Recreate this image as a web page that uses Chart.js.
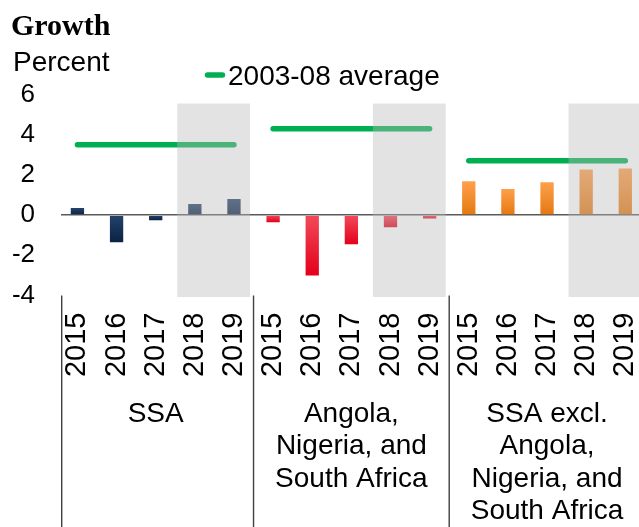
<!DOCTYPE html>
<html><head><meta charset="utf-8">
<script src="https://cdn.jsdelivr.net/npm/chart.js@4"></script>
<style>html,body{margin:0;padding:0;background:#fff;}canvas{display:block}</style>
</head><body>
<canvas id="c" width="639" height="527"></canvas>
<script>
// ---- data ----
const years = ['2015', '2016', '2017', '2018', '2019'];
const projectionYears = ['2018', '2019'];
const groupLabels = [
  ['SSA'],
  ['Angola,', 'Nigeria, and', 'South Africa'],
  ['SSA excl.', 'Angola,', 'Nigeria, and', 'South Africa']
];
const ssa = [0.35, -1.35, -0.25, 0.55, 0.8];
const angolaNigeriaSAfrica = [-0.35, -3.0, -1.45, -0.6, -0.17];
const ssaExcl = [1.68, 1.3, 1.64, 2.27, 2.32];
const average0308 = [3.5, 4.3, 2.7];
const yTicks = [-4, -2, 0, 2, 4, 6];
const legendLabel = '2003-08 average';
const titleText = 'Growth';
const unitText = 'Percent';

// ---- build ----
const series = [ssa, angolaNigeriaSAfrica, ssaExcl];
const n = years.length;
const barPoints = series.flatMap((s, g) => s.map((v, i) => ({x: g * n + i, y: v})));
const avgPoints = average0308.flatMap((v, g) => [
  {x: g * n, y: v}, {x: g * n + n - 1, y: v}, {x: g * n + n - 0.5, y: null}
]);
const palettes = [
  ['#24436b', '#0b2244'],
  ['#f24a5a', '#e4001a'],
  ['#ffa04c', '#e47810']
];
const SANS = "'Liberation Sans', Arial, sans-serif";

function barColor(ctx) {
  if (ctx.type !== 'data') return palettes[0][1];
  const g = Math.floor(ctx.raw.x / n);
  const [light, dark] = palettes[g];
  const ys = ctx.chart.scales.y;
  if (!ys || !isFinite(ys.getPixelForValue(0))) return dark;
  const v = ctx.raw.y;
  const top = ys.getPixelForValue(Math.max(v, 0));
  const bot = ys.getPixelForValue(Math.min(v, 0));
  if (!(bot > top)) return dark;
  const gr = ctx.chart.ctx.createLinearGradient(0, top, 0, bot);
  gr.addColorStop(0, light);
  gr.addColorStop(1, dark);
  return gr;
}

const decor = {
  id: 'decor',
  afterDatasetsDraw(chart) {
    const {ctx, chartArea: a, scales: {x, y}} = chart;
    ctx.save();
    ctx.fillStyle = 'rgba(186,186,186,0.4)';
    const p0 = years.indexOf(projectionYears[0]);
    const p1 = years.indexOf(projectionYears[projectionYears.length - 1]);
    for (let g = 0; g < series.length; g++) {
      const x0 = x.getPixelForValue(g * n + p0 - 0.45);
      const x1 = Math.min(x.getPixelForValue(g * n + p1 + 0.41), a.right);
      const y0 = y.getPixelForValue(5.55);
      ctx.fillRect(x0, y0, x1 - x0, a.bottom + 1.5 - y0);
    }
    ctx.restore();
  },
  afterDraw(chart) {
    const {ctx, chartArea: a, scales: {x}} = chart;
    ctx.save();
    // group separators
    ctx.strokeStyle = '#404040';
    ctx.lineWidth = 1.4;
    for (let g = 0; g < series.length; g++) {
      const px = g === 0 ? a.left + 0.7 : x.getPixelForValue(g * n - 0.5);
      ctx.beginPath();
      ctx.moveTo(px, a.bottom);
      ctx.lineTo(px, chart.height);
      ctx.stroke();
    }
    // group labels
    ctx.fillStyle = '#000';
    ctx.font = '28px ' + SANS;
    ctx.textAlign = 'center';
    ctx.textBaseline = 'alphabetic';
    groupLabels.forEach((lines, g) => {
      const cx = (x.getPixelForValue(g * n - 0.5) + x.getPixelForValue(g * n + n - 0.5)) / 2;
      lines.forEach((t, i) => ctx.fillText(t, cx, a.bottom + 126.5 + i * 32.3));
    });
    // title & unit
    ctx.textAlign = 'left';
    ctx.font = "bold 30px 'Liberation Serif', 'Times New Roman', serif";
    ctx.fillText(titleText, 11, 35);
    ctx.font = '28px ' + SANS;
    ctx.fillText(unitText, 13, 71);
    // legend
    ctx.strokeStyle = '#00b050';
    ctx.lineWidth = 5.5;
    ctx.lineCap = 'round';
    ctx.beginPath();
    ctx.moveTo(207.5, 75);
    ctx.lineTo(222.5, 75);
    ctx.stroke();
    ctx.font = '28px ' + SANS;
    ctx.fillText(legendLabel, 228, 85);
    ctx.restore();
  }
};

new Chart(document.getElementById('c'), {
  type: 'bar',
  data: {
    datasets: [
      {
        type: 'line',
        label: legendLabel,
        data: avgPoints,
        borderColor: '#00b050',
        borderWidth: 5.5,
        borderCapStyle: 'round',
        pointRadius: 0,
        spanGaps: false,
        fill: false
      },
      {
        type: 'bar',
        label: 'Growth',
        data: barPoints,
        backgroundColor: barColor,
        barPercentage: 0.34,
        categoryPercentage: 1
      }
    ]
  },
  options: {
    responsive: false,
    animation: false,
    events: [],
    layout: {padding: {top: 94.5, left: 0, right: 0, bottom: 0}},
    plugins: {legend: {display: false}, tooltip: {enabled: false}, title: {display: false}},
    scales: {
      x: {
        type: 'linear',
        offset: false,
        min: -0.42,
        max: 14.35,
        grid: {display: false, drawTicks: false, offset: false},
        border: {display: false},
        afterBuildTicks: s => { s.ticks = barPoints.map(p => ({value: p.x})); },
        ticks: {
          autoSkip: false,
          minRotation: 90,
          maxRotation: 90,
          padding: 17,
          color: '#000',
          font: {family: SANS, size: 29},
          callback: v => years[v % n]
        },
        afterFit: s => { s.height = 231.5; s.paddingLeft = 0; s.paddingRight = 0; }
      },
      y: {
        min: -4,
        max: 6,
        afterBuildTicks: s => { s.ticks = yTicks.map(v => ({value: v})); },
        grid: {
          drawTicks: false,
          color: c => (c.tick && c.tick.value === 0) ? '#5a5a5a' : 'rgba(0,0,0,0)',
          lineWidth: 1.6
        },
        border: {display: false},
        ticks: {padding: 26, color: '#000', font: {family: SANS, size: 26}},
        afterFit: s => { s.width = 61; }
      }
    }
  },
  plugins: [decor]
});
</script>
</body></html>
